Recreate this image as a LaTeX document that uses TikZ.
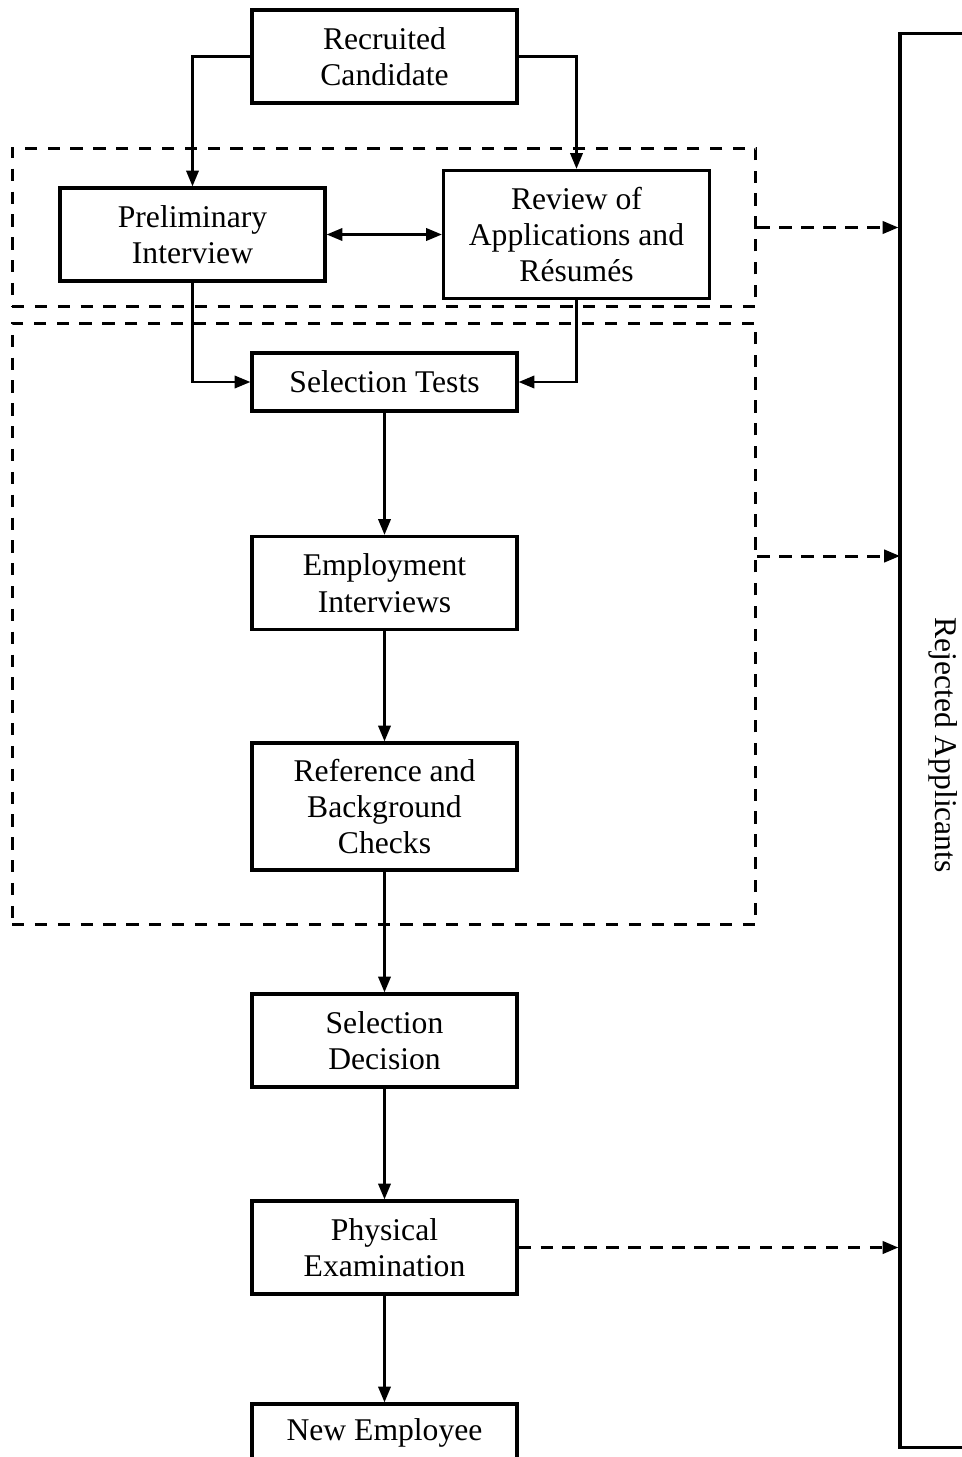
\documentclass[tikz,border=0pt]{standalone}
\usepackage{fontspec}
\setmainfont{Liberation Serif}
\usetikzlibrary{arrows.meta}

\tikzset{
  box/.style={draw,line width=1.8pt,minimum width=5.3cm,align=center,inner sep=0pt,
    font=\fontsize{18}{20.7}\selectfont},
  group/.style={draw,line width=1.7pt,dash pattern=on 7pt off 6pt,inner sep=0pt},
  arr/.style={line width=1.5pt,-{Triangle[length=9pt,width=7pt]}},
  darr/.style={line width=1.7pt,dash pattern=on 7pt off 5.5pt,-{Triangle[length=9pt,width=7pt]}}
}

\begin{document}
\begin{tikzpicture}[x=0.02cm,y=-0.02cm]
  \useasboundingbox (0,0) rectangle (962,1457);

  \node [group,minimum width=14.88cm,minimum height=3.18cm] (g1) at (384,227.5) {};
  \node [group,minimum width=14.88cm,minimum height=12.04cm] (g2) at (384,624) {};

  \node [box,minimum height=1.86cm] (rc) at (384.5,56.5) {Recruited\\Candidate};
  \node [box,minimum height=1.86cm] (prel) at (192.5,234.5) {Preliminary\\Interview};
  \node [box,minimum width=5.32cm,minimum height=2.56cm] (rev) at (576.5,234.5) {Review of\\Applications and\\Résumés};
  \node [box,minimum height=1.16cm] (sel) at (384.5,382) {Selection Tests};
  \node [box,minimum height=1.86cm] (emp) at (384.5,583) {Employment\\Interviews};
  \node [box,minimum height=2.54cm] (refc) at (384.5,806.5) {Reference and\\Background\\Checks};
  \node [box,minimum height=1.86cm] (dec) at (384.5,1040.5) {Selection\\Decision};
  \node [box,minimum height=1.86cm] (phys) at (384.5,1247.5) {Physical\\Examination};
  \node [box,minimum height=1.16cm] (new) at (384.5,1433) {New Employee};

  \node [draw,line width=1.8pt,minimum width=2.4cm,minimum height=28.3cm] (rej) at (960,740.5) {};
  \node [rotate=-90,font=\fontsize{18}{20.7}\selectfont] (rejtext) at (943,745) {Rejected Applicants};
  \coordinate (r2) at (900,556);

  \draw [arr] (rc.west) -| (prel.north);
  \draw [arr] (rc.east) -| (rev.north);
  \draw [line width=1.5pt,{Triangle[length=9pt,width=7pt]}-{Triangle[length=9pt,width=7pt]}] (prel.east) -- (rev.west);
  \draw [arr] (prel.south) |- (sel.west);
  \draw [arr] (rev.south) |- (sel.east);
  \draw [arr] (sel) -- (emp);
  \draw [arr] (emp) -- (refc);
  \draw [arr] (refc) -- (dec);
  \draw [arr] (dec) -- (phys);
  \draw [arr] (phys) -- (new);

  \draw [darr] (g1.east) -- (g1.east -| rej.west);
  \draw [darr] (g2.east |- r2) -- (r2);
  \draw [darr] (phys.east) -- (phys.east -| rej.west);
\end{tikzpicture}
\end{document}
